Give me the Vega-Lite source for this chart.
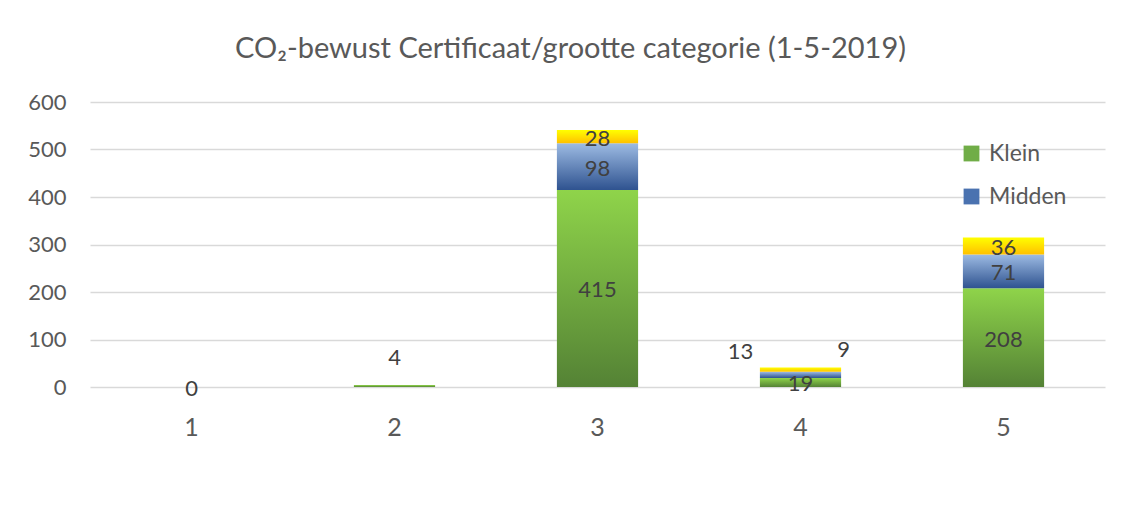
{
  "$schema": "https://vega.github.io/schema/vega-lite/v6.json",
  "width": 1015,
  "height": 285,
  "autosize": {"type": "none"},
  "padding": {"left": 90, "top": 102, "right": 16, "bottom": 136},
  "background": "white",
  "title": {
    "text": "CO₂-bewust Certificaat/grootte categorie (1-5-2019)",
    "font": "Lato",
    "fontSize": 29,
    "fontWeight": "normal",
    "color": "#595959",
    "anchor": "middle",
    "dx": -27,
    "offset": 27
  },
  "data": {
    "values": [
      {"cat": "1", "size": "Klein", "value": 0},
      {"cat": "2", "size": "Klein", "value": 4},
      {"cat": "3", "size": "Klein", "value": 415},
      {"cat": "3", "size": "Midden", "value": 98},
      {"cat": "3", "size": "Groot", "value": 28},
      {"cat": "4", "size": "Klein", "value": 19},
      {"cat": "4", "size": "Midden", "value": 13},
      {"cat": "4", "size": "Groot", "value": 9},
      {"cat": "5", "size": "Klein", "value": 208},
      {"cat": "5", "size": "Midden", "value": 71},
      {"cat": "5", "size": "Groot", "value": 36}
    ]
  },
  "transform": [
    {"calculate": "indexof(['Klein','Midden','Groot'], datum.size)", "as": "ord"},
    {"stack": "value", "groupby": ["cat"], "sort": [{"field": "ord", "order": "ascending"}], "as": ["y0", "y1"]},
    {"calculate": "(datum.y0 + datum.y1) / 2", "as": "mid"}
  ],
  "encoding": {
    "x": {
      "field": "cat",
      "type": "ordinal",
      "scale": {"paddingInner": 0.6, "paddingOuter": 0.3},
      "axis": {
        "title": null,
        "labelAngle": 0,
        "labelFont": "Lato",
        "labelFontSize": 25,
        "labelColor": "#595959",
        "labelPadding": 28,
        "ticks": false,
        "domain": false,
        "grid": false
      }
    }
  },
  "layer": [
    {
      "mark": {"type": "bar"},
      "encoding": {
        "y": {
          "field": "y0",
          "type": "quantitative",
          "scale": {"domain": [0, 600], "nice": false},
          "axis": {
            "title": null,
            "values": [0, 100, 200, 300, 400, 500, 600],
            "labelFont": "Lato",
            "labelFontSize": 22,
            "labelColor": "#595959",
            "labelPadding": 24,
            "ticks": false,
            "domain": false,
            "gridColor": "#d9d9d9",
            "gridWidth": 1.5
          }
        },
        "y2": {"field": "y1"},
        "fill": {
          "condition": [
            {"test": "datum.size === 'Klein'", "value": {"gradient": "linear", "x1": 0, "y1": 0, "x2": 0, "y2": 1, "stops": [{"offset": 0, "color": "#8fd44a"}, {"offset": 1, "color": "#548235"}]}},
            {"test": "datum.size === 'Midden'", "value": {"gradient": "linear", "x1": 0, "y1": 0, "x2": 0, "y2": 1, "stops": [{"offset": 0, "color": "#9dbbe3"}, {"offset": 1, "color": "#2f5390"}]}}
          ],
          "value": {"gradient": "linear", "x1": 0, "y1": 0, "x2": 0, "y2": 1, "stops": [{"offset": 0, "color": "#ffff00"}, {"offset": 1, "color": "#ffc000"}]}
        }
      }
    },
    {
      "mark": {"type": "point", "opacity": 0, "filled": true},
      "encoding": {
        "y": {"field": "y1", "type": "quantitative"},
        "color": {
          "field": "size",
          "type": "nominal",
          "scale": {
            "domain": ["Klein", "Midden", "Groot"],
            "range": ["#70ad47", "#4a72b0", "#ffe000"]
          },
          "legend": {
            "title": null,
            "values": ["Klein", "Midden"],
            "orient": "none",
            "legendX": 870,
            "legendY": 40,
            "symbolType": "square",
            "symbolSize": 250,
            "symbolStrokeWidth": 0,
            "symbolOpacity": 1,
            "labelFont": "Lato",
            "labelFontSize": 23,
            "labelColor": "#595959",
            "rowPadding": 19,
            "labelOffset": 6,
            "encode": {
              "symbols": {
                "update": {
                  "opacity": {"value": 1},
                  "fillOpacity": {"value": 1},
                  "fill": [
                    {"test": "datum.value === 'Klein'", "value": {"gradient": "linear", "x1": 0, "y1": 0, "x2": 0, "y2": 1, "stops": [{"offset": 0, "color": "#8fd44a"}, {"offset": 1, "color": "#548235"}]}},
                    {"value": {"gradient": "linear", "x1": 0, "y1": 0, "x2": 0, "y2": 1, "stops": [{"offset": 0, "color": "#9dbbe3"}, {"offset": 1, "color": "#2f5390"}]}}
                  ]
                }
              }
            }
          }
        }
      }
    },
    {
      "transform": [{"filter": "!((datum.cat == '4' && datum.size != 'Klein') || datum.cat == '2')"}],
      "mark": {"type": "text", "font": "Lato", "fontSize": 22, "color": "#404040", "dy": 2},
      "encoding": {
        "y": {"field": "mid", "type": "quantitative"},
        "text": {"field": "value", "type": "quantitative"}
      }
    },
    {
      "transform": [{"filter": "datum.cat == '2'"}],
      "mark": {"type": "text", "font": "Lato", "fontSize": 22, "color": "#404040", "dy": -28},
      "encoding": {
        "y": {"field": "mid", "type": "quantitative"},
        "text": {"field": "value", "type": "quantitative"}
      }
    },
    {
      "transform": [{"filter": "datum.cat == '4' && datum.size == 'Midden'"}],
      "mark": {"type": "text", "font": "Lato", "fontSize": 22, "color": "#404040", "dx": -60, "dy": -23},
      "encoding": {
        "y": {"field": "mid", "type": "quantitative"},
        "text": {"field": "value", "type": "quantitative"}
      }
    },
    {
      "transform": [{"filter": "datum.cat == '4' && datum.size == 'Groot'"}],
      "mark": {"type": "text", "font": "Lato", "fontSize": 22, "color": "#404040", "dx": 43, "dy": -20},
      "encoding": {
        "y": {"field": "mid", "type": "quantitative"},
        "text": {"field": "value", "type": "quantitative"}
      }
    }
  ],
  "config": {"view": {"stroke": null}}
}
